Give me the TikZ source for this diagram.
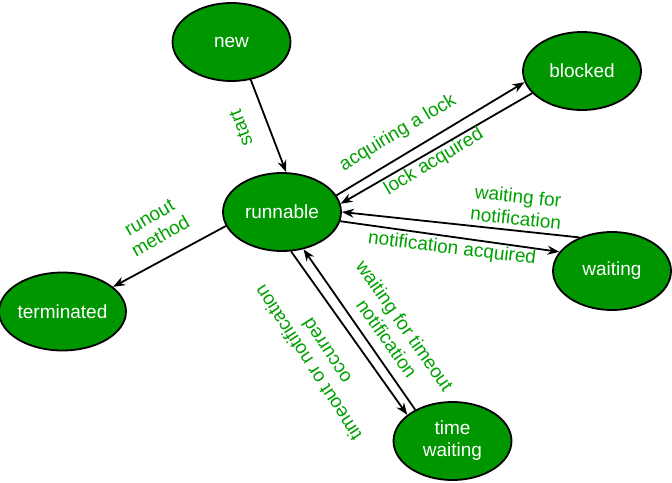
\documentclass[tikz,border=0pt]{standalone}
\usepackage{fontspec}
\setmainfont{Liberation Sans}
\usetikzlibrary{shapes.geometric,arrows.meta}
\definecolor{stategreen}{RGB}{0,150,0}
\definecolor{labelgreen}{RGB}{0,160,0}

\begin{document}
\begin{tikzpicture}[x=1pt,y=-1pt,>={Stealth[length=12pt,width=9pt]},line width=1.8pt,
  every node/.style={font=\fontsize{19}{22}\selectfont},
  state/.style={ellipse,draw=black,line width=1.8pt,fill=stategreen,text=white,
    minimum width=118pt,minimum height=78pt,inner sep=0pt,align=center},
  lbl/.style={text=labelgreen,align=center,inner sep=1pt}]
  \useasboundingbox (0,0) rectangle (672,482);
  % states
  \node[state] (new) at (231.5,42) {new};
  \node[state] (blocked) at (582,71) {blocked};
  \node[state] (run) at (282,212) {runnable};
  \node[state] (wait) at (612,271) {waiting};
  \node[state] (term) at (62.5,311.5) {terminated};
  \node[state] (tw) at (452.5,441) {time\\waiting};

  % transitions
  \draw[->] (new.297) -- (run.84);
  \draw[->] (run.17) -- (blocked.191);
  \draw[->] (blocked.204) -- (run.8);
  \draw[->] (wait.134) -- (run.0);
  \draw[->] (run.-9) -- (wait.160);
  \draw[->] (run.194) -- (term.26);
  \draw[->] (run.283) -- (tw.150);
  \draw[->] (tw.140) -- (run.300);

  % labels
  \node[lbl,rotate=110.6] (lStart) at (241,128) {start};
  \node[lbl,rotate=31] (lAcq) at (398,133) {acquiring a lock};
  \node[lbl,rotate=31] (lLock) at (434,162) {lock acquired};
  \node[lbl,rotate=-6] (lWait) at (517,207) {waiting for\\notification};
  \node[lbl,rotate=-7] (lNotif) at (452,249) {notification acquired};
  \node[lbl,rotate=30] (lRun) at (155,227) {runout\\method};
  \node[lbl,rotate=-55] (lTimeout) at (396,332) {waiting for timeout\\notification};
  \node[lbl,rotate=123] (lOccur) at (317,357) {timeout or notification\\occurred};
\end{tikzpicture}
\end{document}
